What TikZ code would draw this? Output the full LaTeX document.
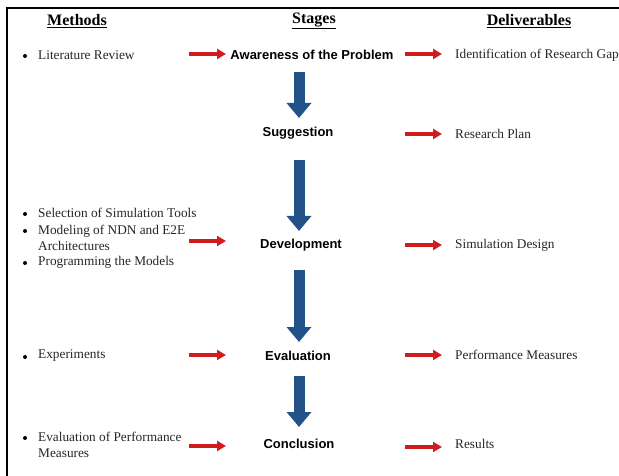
\documentclass[tikz,border=0pt]{standalone}
\usepackage{fontspec}
\setmainfont{Liberation Serif}
\newfontfamily\arialf{Liberation Sans}
\usetikzlibrary{arrows.meta}
\definecolor{stageblue}{RGB}{34,82,136}
\definecolor{flowred}{RGB}{208,28,30}
\tikzset{
  hdr/.style={font=\fontsize{16}{18}\selectfont\bfseries, inner sep=0pt},
  stagetxt/.style={font=\arialf\fontsize{13}{15}\selectfont\bfseries, inner sep=0pt},
  bodytxt/.style={font=\fontsize{13.3}{16}\selectfont, inner sep=0pt, anchor=west, align=left, color=black!85},
  bul/.style={circle, fill=black, inner sep=0pt, minimum size=4pt},
  redarr/.style={draw=flowred, line width=4pt, -{Triangle[width=10pt,length=9pt]}},
  bluearr/.style={draw=stageblue, line width=11pt, -{Triangle[width=24pt,length=15pt]}},
}
\begin{document}
\begin{tikzpicture}[x=1pt,y=-1pt]
\useasboundingbox (0,0) rectangle (619,476);
\fill[white] (0,0) rectangle (619,476);
\draw[line width=2pt] (7,476) -- (7,8) -- (619,8);

% headers
\node[hdr] (hm) at (77,21) {\underline{Methods}};
\node[hdr] (hs) at (314,21) {\underline{Stages}};
\node[hdr] (hd) at (529,21) {\underline{Deliverables}};

% stages
\node[stagetxt] (s1) at (312,55) {Awareness of the Problem};
\node[stagetxt] (s2) at (298,133) {Suggestion};
\node[stagetxt] (s3) at (301,245) {Development};
\node[stagetxt] (s4) at (298,356) {Evaluation};
\node[stagetxt] (s5) at (299,444) {Conclusion};

% methods
\node[bul] (b1) at (25,56) {};
\node[bodytxt] (m1) at (38,55) {Literature Review};
\node[bul] (b2) at (25,214) {};
\node[bodytxt] (m2) at (38,213) {Selection of Simulation Tools};
\node[bul] (b3) at (25,231) {};
\node[bodytxt] (m3) at (38,238) {Modeling of NDN and E2E\\Architectures};
\node[bul] (b4) at (25,263) {};
\node[bodytxt] (m4) at (38,262) {Programming the Models};
\node[bul] (b5) at (25,357) {};
\node[bodytxt] (m5) at (38,356) {Experiments};
\node[bul] (b6) at (25,438) {};
\node[bodytxt] (m6) at (38,445) {Evaluation of Performance\\Measures};

% deliverables
\node[bodytxt] (d1) at (455,55) {Identification of Research Gap};
\node[bodytxt] (d2) at (455,134) {Research Plan};
\node[bodytxt] (d3) at (455,245) {Simulation Design};
\node[bodytxt] (d4) at (455,355) {Performance Measures};
\node[bodytxt] (d5) at (455,444) {Results};

% red arrow end points
\coordinate (l1a) at (189,54);  \coordinate (l1b) at (226,54);
\coordinate (l3a) at (189,241); \coordinate (l3b) at (226,241);
\coordinate (l4a) at (189,355); \coordinate (l4b) at (226,355);
\coordinate (l5a) at (189,446); \coordinate (l5b) at (226,446);
\coordinate (r1a) at (405,54);  \coordinate (r1b) at (442,54);
\coordinate (r2a) at (405,134); \coordinate (r2b) at (442,134);
\coordinate (r3a) at (405,245); \coordinate (r3b) at (442,245);
\coordinate (r4a) at (405,355); \coordinate (r4b) at (442,355);
\coordinate (r5a) at (405,447); \coordinate (r5b) at (442,447);
\foreach \p in {l1,l3,l4,l5,r1,r2,r3,r4,r5} \draw[redarr] (\p a) -- (\p b);

% blue arrow end points
\coordinate (v1a) at (299,72);  \coordinate (v1b) at (299,118);
\coordinate (v2a) at (299,160); \coordinate (v2b) at (299,231);
\coordinate (v3a) at (299,270); \coordinate (v3b) at (299,342);
\coordinate (v4a) at (299,376); \coordinate (v4b) at (299,427);
\foreach \p in {v1,v2,v3,v4} \draw[bluearr] (\p a) -- (\p b);
\end{tikzpicture}
\end{document}
